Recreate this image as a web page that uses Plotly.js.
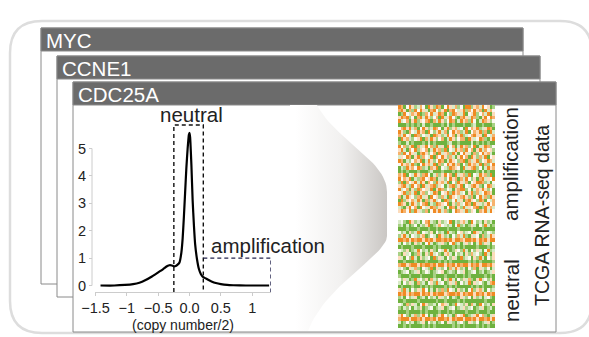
<!DOCTYPE html>
<html><head><meta charset="utf-8">
<script src="https://cdn.plot.ly/plotly-3.0.1.min.js"></script>
<style>html,body{margin:0;padding:0;background:#fff}#chart{width:589px;height:337px}</style>
</head><body><div id="chart"></div>
<script>
// ---------- DATA ----------
const geneNames = ['MYC', 'CCNE1', 'CDC25A'];
const densityX = [-1.42,-1.2,-1.03,-0.9,-0.8,-0.7,-0.6,-0.5,-0.42,-0.36,-0.32,-0.28,-0.25,-0.22,-0.19,-0.16,-0.13,-0.11,-0.09,-0.07,-0.05,-0.03,-0.01,0.0,0.01,0.03,0.05,0.07,0.09,0.12,0.15,0.18,0.21,0.25,0.29,0.35,0.42,0.5,0.6,0.7,0.9,1.27];
const densityY = [0,0,0.02,0.05,0.1,0.2,0.33,0.48,0.6,0.7,0.74,0.73,0.7,0.71,0.76,0.84,1.2,1.7,2.5,3.4,4.3,5.0,5.5,5.57,5.4,4.4,3.1,2.2,1.5,0.95,0.6,0.42,0.32,0.27,0.22,0.15,0.09,0.05,0.02,0.01,0,0];
const xTickVals = [-1.5,-1,-0.5,0,0.5,1];
const xTickText = ['\u22121.5','\u22121','\u22120.5','0.0','0.5','1'];
const yTickVals = [0,1,2,3,4,5];
const neutralRange = [-0.25, 0.22];
const neutralTop = 5.86;
const ampRange = [0.22, 1.3];
const ampTop = 1.0;
const xLabel = '(copy number/2)';
const groupLabels = ['amplification', 'neutral'];
const sideLabel = 'TCGA RNA-seq data';
// heatmap expression levels (0 = strong orange ... 6 = strong green)
const ampRows = [
"016302 541360 250163 024153 600521 403265",
"102615 030246 103520 610342 051302 160413",
"650341 206513 042016 350124 063205 314062",
"201053 610402 531604 203561 024015 620301",
"043162 052310 614025 301640 215036 401253",
"666565 656466 566656 465666 566546 656665",
"310204 163025 401362 052143 603120 542016",
"025613 402160 352041 630215 406312 051604",
"140326 015342 601254 031620 543102 260341",
"602145 320614 025316 402531 160243 015620",
"566465 666564 656666 546656 666465 656566",
"031520 614203 150426 031640 215306 420153",
"204613 052316 402150 634021 503162 041325",
"150302 461025 316042 150263 024615 302146",
"423016 205134 061302 514620 316025 140632",
"016453 120640 253016 402351 061420 532014",
"302140 563021 406153 020416 350214 061530",
"645021 301546 120634 501236 042105 364021",
"656566 656665 466656 665656 566665 646566",
"120634 025103 641520 316042 150634 021506",
"031206 451032 016425 302161 403526 104230",
"506132 040261 350214 063502 416320 015463",
"210450 316042 105236 410520 634102 563014",
"043162 501324 062015 346210 053641 202536",
"320514 062153 401632 050214 362051 430126",
"164023 510426 032514 602341 025163 041502",
"605231 402615 204360 153042 610235 016341",
"012640 253106 450123 062514 301602 452031",
"456203 160342 015246 301625 042310 650214",
"201305 024516 302041 563012 405236 120403"];
const neutralRows = [
"435602 546310 456254 306452 146035 462546",
"546465 364520 654134 546305 465246 350465",
"666566 656665 665666 566656 666566 656666",
"354625 406345 263546 045632 543602 465345",
"520463 452165 346025 463514 056243 615402",
"001020 100201 020010 102001 200102 010200",
"463546 254630 465425 630546 425364 052463",
"656665 666566 656566 665656 566665 666565",
"345265 403546 256340 465235 046352 463054",
"562436 514625 043562 146354 625143 560462",
"246350 462543 605246 352460 543625 046352",
"665666 566656 666565 656666 665656 566665",
"100210 020100 102002 010201 002010 200102",
"435624 156345 062453 614025 463516 245364",
"654365 426534 654326 545634 265436 546542",
"566656 665666 656665 666566 565666 665656",
"352465 043526 145362 504635 241562 043526",
"463524 615463 250436 524163 540624 356410",
"656665 665656 566665 656566 666565 656665",
"250463 524036 462515 034625 463052 146354",
"010201 002010 201002 100102 010020 102010",
"546354 265463 546245 364562 453625 464356",
"665666 656666 665665 666656 566666 665666",
"346152 463025 546312 465034 526146 035462",
"564536 452654 365426 543654 254365 426546",
"666566 665656 666566 565666 656665 666566",
"203564 152036 465203 546132 065420 315642",
"100020 010200 102001 020100 200102 001020",
"465354 654263 546536 245643 562453 654265",
"665656 666565 656666 665656 566665 656566"];

// ---------- LAYOUT HELPERS ----------
const W = 589, H = 337;
const X = px => px / W;
const Y = py => 1 - py / H;
const FONT = 'Arial, "Liberation Sans", Helvetica, sans-serif';
const parseRows = rows => rows.map(r => r.replace(/\s/g, '').split('').map(Number));

const heatScale = [
  [0, '#ef8a24'], [1/6, '#f6b26c'], [2/6, '#fcdcbc'], [3/6, '#fcf8f1'],
  [4/6, '#d8eac7'], [5/6, '#a9d186'], [1, '#6eb23f']
];

// funnel (decorative) built from two cubic bezier curves in pixel space
function bez(p0, p1, p2, p3, n) {
  const pts = [];
  for (let i = 0; i <= n; i++) {
    const t = i / n, u = 1 - t;
    pts.push([u*u*u*p0[0] + 3*u*u*t*p1[0] + 3*u*t*t*p2[0] + t*t*t*p3[0],
              u*u*u*p0[1] + 3*u*u*t*p1[1] + 3*u*t*t*p2[1] + t*t*t*p3[1]]);
  }
  return pts;
}
const topCurve = bez([317,105],[335,140],[387,160],[387,192], 30);
const botCurve = bez([387,236],[387,255],[325,285],[308,331], 30);
const funnelPts = [[290,105]].concat(topCurve, botCurve, [[290,331]]);

// panels
const panels = [
  {x0:41, y0:28, x1:523, y1:284},
  {x0:57, y0:56, x1:540, y1:297},
  {x0:73, y0:82, x1:556, y1:332}
];
const headerH = 23;

function rr(x0,y0,x1,y1,r){
  return `M${X(x0+r)},${Y(y0)} L${X(x1-r)},${Y(y0)} Q${X(x1)},${Y(y0)} ${X(x1)},${Y(y0+r)} `+
         `L${X(x1)},${Y(y1-r)} Q${X(x1)},${Y(y1)} ${X(x1-r)},${Y(y1)} L${X(x0+r)},${Y(y1)} `+
         `Q${X(x0)},${Y(y1)} ${X(x0)},${Y(y1-r)} L${X(x0)},${Y(y0+r)} Q${X(x0)},${Y(y0)} ${X(x0+r)},${Y(y0)} Z`;
}

const shapes = [];
shapes.push({type:'path', xref:'paper', yref:'paper', layer:'below', path: rr(10,21,592,333,32),
  line:{color:'#dddddd', width:2.5}, fillcolor:'rgba(0,0,0,0)'});
panels.forEach(p => {
  shapes.push({type:'rect', xref:'paper', yref:'paper', layer:'below',
    x0:X(p.x0), x1:X(p.x1), y0:Y(p.y1), y1:Y(p.y0),
    line:{color:'#8a8a8a', width:1}, fillcolor:'#ffffff'});
  shapes.push({type:'rect', xref:'paper', yref:'paper', layer:'below',
    x0:X(p.x0), x1:X(p.x1), y0:Y(p.y0+headerH), y1:Y(p.y0),
    line:{color:'#8a8a8a', width:1}, fillcolor:'#6b6b6b'});
});
// y axis line (0..5)
shapes.push({type:'line', xref:'paper', yref:'y', x0:X(92), x1:X(92),
  y0:yTickVals[0], y1:yTickVals[yTickVals.length-1], line:{color:'#cccccc', width:1}});
const yBottom = -0.237;
// neutral dashed box (open at bottom)
shapes.push({type:'path', xref:'x', yref:'y', layer:'above',
  path:`M${neutralRange[0]},${yBottom} L${neutralRange[0]},${neutralTop} L${neutralRange[1]},${neutralTop} L${neutralRange[1]},${yBottom}`,
  line:{color:'#111111', width:1.4, dash:'4px,3px'}});
// amplification dashed box
shapes.push({type:'path', xref:'x', yref:'y', layer:'above',
  path:`M${ampRange[0]},${ampTop} L${ampRange[1]},${ampTop} L${ampRange[1]},${yBottom}`,
  line:{color:'#23234d', width:1.4, dash:'4px,3px'}});

const annotations = [];
const headerFont = {family:FONT, size:20.5, color:'#ffffff'};
panels.forEach((p, i) => {
  annotations.push({xref:'paper', yref:'paper', x:X(p.x0+3), y:Y(p.y0+headerH/2+1),
    xanchor:'left', yanchor:'middle', text:geneNames[i], showarrow:false, font:headerFont});
});
const txtFont = {family:FONT, size:20.5, color:'#222222'};
annotations.push({xref:'paper', yref:'paper', x:X(191), y:Y(114), xanchor:'center', yanchor:'middle',
  text:groupLabels[1], showarrow:false, font:txtFont});
annotations.push({xref:'paper', yref:'paper', x:X(209), y:Y(245), xanchor:'left', yanchor:'middle',
  text:groupLabels[0], showarrow:false, font:txtFont});
annotations.push({xref:'paper', yref:'paper', x:X(511), y:Y(164), xanchor:'center', yanchor:'middle',
  text:groupLabels[0], textangle:-90, showarrow:false, font:txtFont});
annotations.push({xref:'paper', yref:'paper', x:X(511), y:Y(291), xanchor:'center', yanchor:'middle',
  text:groupLabels[1], textangle:-90, showarrow:false, font:txtFont});
annotations.push({xref:'paper', yref:'paper', x:X(542), y:Y(216), xanchor:'center', yanchor:'middle',
  text:sideLabel, textangle:-90, showarrow:false, font:{family:FONT, size:19.5, color:'#222222'}});
annotations.push({xref:'paper', yref:'paper', x:X(183), y:Y(325), xanchor:'center', yanchor:'middle',
  text:xLabel, showarrow:false, font:{family:FONT, size:14, color:'#222222'}});

const ampZ = parseRows(ampRows);
const neuZ = parseRows(neutralRows);
const nCols = ampZ[0].length;

const traces = [
  {type:'scatter', mode:'lines', x:densityX, y:densityY, xaxis:'x', yaxis:'y',
   line:{color:'#000000', width:2.2, shape:'spline', smoothing:0.4}, hoverinfo:'skip'},
  {type:'heatmap', z:ampZ, xaxis:'x2', yaxis:'y2', zmin:0, zmax:6, colorscale:heatScale, showscale:false, hoverinfo:'skip'},
  {type:'heatmap', z:neuZ, xaxis:'x3', yaxis:'y3', zmin:0, zmax:6, colorscale:heatScale, showscale:false, hoverinfo:'skip'},
  {type:'scatter', mode:'lines', x:funnelPts.map(p=>p[0]), y:funnelPts.map(p=>p[1]), xaxis:'x4', yaxis:'y4',
   fill:'toself', line:{width:0, color:'rgba(0,0,0,0)'},
   fillgradient:{type:'horizontal', start:295, stop:387,
     colorscale:[[0,'rgba(255,255,255,1)'],[0.5,'#f2f1f0'],[1,'#cac7c4']]}, hoverinfo:'skip'}
];

const hidden = {visible:false, showgrid:false, zeroline:false, fixedrange:true};
const layout = {
  width:W, height:H, margin:{l:0,r:0,t:0,b:0,pad:0},
  paper_bgcolor:'#ffffff', plot_bgcolor:'rgba(0,0,0,0)', showlegend:false,
  font:{family:FONT, size:14, color:'#222222'},
  xaxis:{domain:[X(95), X(271)], range:[-1.508, 1.30], showgrid:false, zeroline:false,
    showline:true, linecolor:'#cccccc', linewidth:1, ticks:'outside', ticklen:3, tickcolor:'#cccccc',
    tickvals:xTickVals, ticktext:xTickText, tickfont:{family:FONT, size:14.5, color:'#222222'}, anchor:'y'},
  yaxis:{domain:[Y(292), Y(120)], range:[yBottom, 6.04], showgrid:false, zeroline:false,
    showline:false, ticks:'outside', ticklen:3, tickcolor:'#cccccc', anchor:'free', position:X(92),
    tickvals:yTickVals, tickfont:{family:FONT, size:14.5, color:'#222222'}},
  xaxis2:Object.assign({domain:[X(398), X(495)], range:[-0.5, nCols-0.5], anchor:'y2'}, hidden),
  yaxis2:Object.assign({domain:[Y(213), Y(105)], range:[ampZ.length-0.5, -0.5], anchor:'x2'}, hidden),
  xaxis3:Object.assign({domain:[X(398), X(495)], range:[-0.5, nCols-0.5], anchor:'y3'}, hidden),
  yaxis3:Object.assign({domain:[Y(328), Y(220)], range:[neuZ.length-0.5, -0.5], anchor:'x3'}, hidden),
  xaxis4:Object.assign({domain:[0,1], range:[0, W], anchor:'y4'}, hidden),
  yaxis4:Object.assign({domain:[0,1], range:[H, 0], anchor:'x4'}, hidden),
  shapes:shapes, annotations:annotations
};
Plotly.newPlot('chart', traces, layout, {staticPlot:true, displayModeBar:false});
</script></body></html>
